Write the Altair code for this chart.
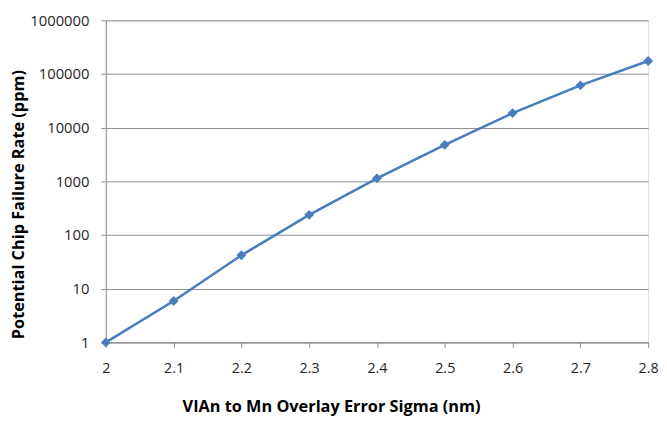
import altair as alt
import pandas as pd

sigma = [2.0, 2.1, 2.2, 2.3, 2.4, 2.5, 2.6, 2.7, 2.8]
failure_ppm = [1, 5.9, 42, 238, 1140, 4800, 18700, 61500, 175000]
x_ticks = [2.0, 2.1, 2.2, 2.3, 2.4, 2.5, 2.6, 2.7, 2.8]
y_ticks = [1, 10, 100, 1000, 10000, 100000, 1000000]

df = pd.DataFrame({"sigma": sigma, "ppm": failure_ppm})

FONT = "Open Sans"
BLUE = "#4A7EBB"
GRID = "#8C8C8C"
LABEL = "#262626"

x = alt.X("sigma:Q",
          scale=alt.Scale(domain=[2.0, 2.8], nice=False, zero=False),
          axis=alt.Axis(values=x_ticks, format="~g", grid=False,
                        title="VIAn to Mn Overlay Error Sigma (nm)",
                        titleFont=FONT, titleFontSize=16.5, titleFontWeight="bold",
                        titleColor="#000000",
                        titleX=228, titleY=65, titleAlign="center",
                        titleBaseline="middle",
                        labelFont=FONT, labelFontSize=14.5, labelColor=LABEL,
                        labelPadding=14, tickSize=5, tickColor=GRID,
                        domainColor=GRID, labelFlush=False))
y = alt.Y("ppm:Q",
          scale=alt.Scale(type="log", domain=[1, 1000000], nice=False),
          axis=alt.Axis(values=y_ticks, format="d", grid=True, gridColor=GRID,
                        title="Potential Chip Failure Rate (ppm)",
                        titleFont=FONT, titleFontSize=16.5, titleFontWeight="bold",
                        titleColor="#000000",
                        titleX=-88, titleY=186, titleAngle=270,
                        titleAlign="center", titleBaseline="middle",
                        labelFont=FONT, labelFontSize=15, labelColor=LABEL,
                        labelPadding=12, tickSize=5, tickColor=GRID,
                        domainColor=GRID))

line = alt.Chart(df).mark_line(color=BLUE, strokeWidth=2.6).encode(x=x, y=y)
pts = alt.Chart(df).mark_point(shape="diamond", filled=True, color=BLUE,
                               size=100, opacity=1).encode(x=x, y=y)

chart = (line + pts).properties(
    width=549, height=326,
    autosize=alt.AutoSizeParams(type="none"),
    padding={"left": 99, "top": 10, "right": 11, "bottom": 74},
).configure_view(stroke=None).configure(background="white")

chart.save("out.html", embed_options={"renderer": "svg", "actions": False})
